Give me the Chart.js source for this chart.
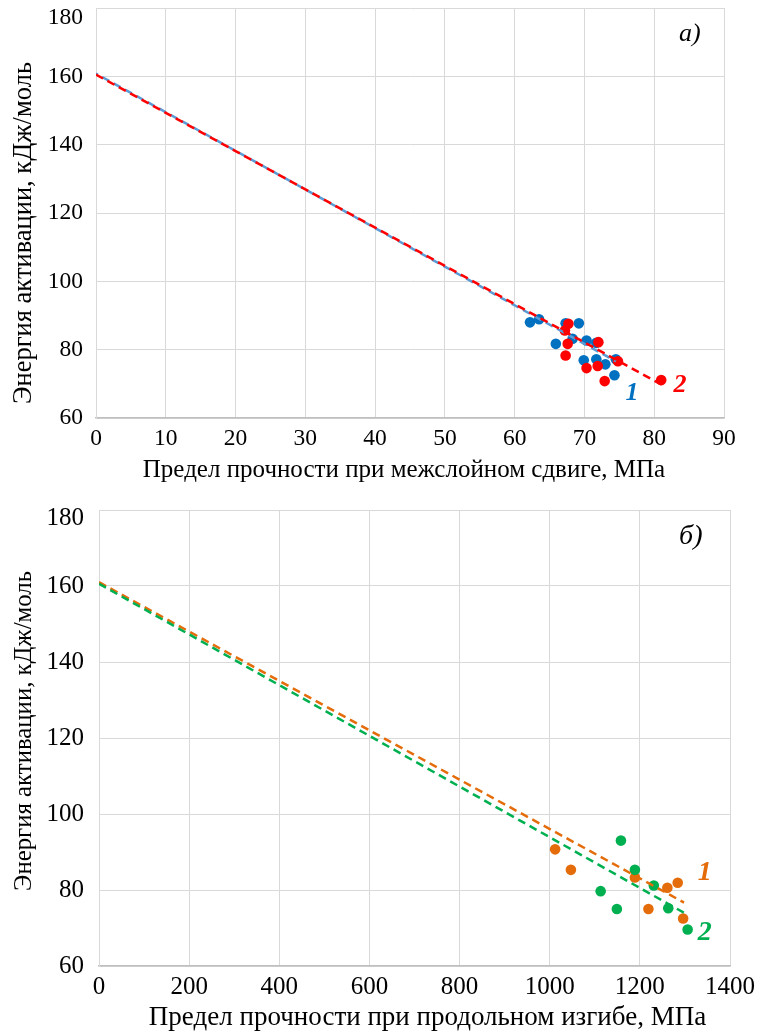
<!DOCTYPE html>
<html><head><meta charset="utf-8">
<script src="https://cdn.jsdelivr.net/npm/chart.js@4.4.1/dist/chart.umd.min.js"></script>
<style>
html,body{margin:0;padding:0;background:#fff;}
#wrap{position:relative;width:764px;height:1032px;}
#c1{position:absolute;left:0;top:0;}
#c2{position:absolute;left:0;top:495px;}
</style></head>
<body><div id="wrap"><canvas id="c1" width="764" height="495"></canvas><canvas id="c2" width="764" height="537"></canvas></div>
<script>
// ---- Chart a) data ----
const a_x1 = [62.2,63.5,67.3,69.2,65.9,68.3,70.3,71.7,69.9,71.7,73.0,74.5,74.3];
const a_y1 = [88.0,88.9,87.7,87.7,81.7,83.2,82.7,82.0,76.9,77.2,75.7,77.2,72.5];
const a_x2 = [67.7,67.2,67.6,72.0,67.3,70.3,71.9,74.8,72.9,81.0];
const a_y2 = [87.6,85.6,81.7,82.2,78.3,74.6,75.2,76.6,70.8,71.1];
const a_trend1_x = [0,74.5];
const a_trend1_y = [160.8,76.6];
const a_trend2_x = [0,81.0];
const a_trend2_y = [160.5,69.8];
const a_xTicks = [0,10,20,30,40,50,60,70,80,90];
const yTicks = [60,80,100,120,140,160,180];
// ---- Chart б) data ----
const b_x1 = [1012,1047,1189,1261,1284,1219,1296];
const b_y1 = [90.7,85.3,83.3,80.6,81.9,75.0,72.5];
const b_x2 = [1158,1189,1231,1113,1149,1263,1306];
const b_y2 = [93.0,85.3,81.2,79.7,75.0,75.2,69.6];
const b_trend1_x = [0,1298];
const b_trend1_y = [161.0,76.7];
const b_trend2_x = [0,1307];
const b_trend2_y = [160.6,73.4];
const b_xTicks = [0,200,400,600,800,1000,1200,1400];

const Y_TITLE = 'Энергия активации, кДж/моль';

const pts = (xs, ys) => xs.map((x,i)=>({x:x,y:ys[i]}));

const BLUE='#0070C0', RED='#FF0000', LBLUE='#5B9BD5', ORANGE='#E46C0A', GREEN='#00B050';
const SERIF='"Liberation Serif","DejaVu Serif",serif';

function labelsPlugin(items){
  return {id:'lbl', afterDatasetsDraw(chart){
    const ctx=chart.ctx, xs=chart.scales.x, ys=chart.scales.y;
    items.forEach(it=>{
      ctx.save();
      ctx.font=it.font; ctx.textAlign='center'; ctx.textBaseline='middle';
      const px=xs.getPixelForValue(it.x), py=ys.getPixelForValue(it.y);
      if(it.bg){const w=ctx.measureText(it.text).width+18; ctx.fillStyle='#fff'; ctx.fillRect(px-w/2,py-14,w,28);}
      ctx.fillStyle=it.color; ctx.fillText(it.text,px,py);
      ctx.restore();
    });
  }};
}

function titlesPlugin(t){
  return {id:'ttl', afterDraw(chart){
    const ctx=chart.ctx, a=chart.chartArea;
    ctx.save();
    ctx.fillStyle='#000'; ctx.textAlign='center'; ctx.textBaseline='middle';
    ctx.font=t.xSize+'px '+SERIF;
    ctx.fillText(t.xText,(a.left+a.right)/2+t.xdx,chart.height-t.xFromBottom);
    ctx.translate(t.yx,(a.top+a.bottom)/2+t.ydy);
    ctx.rotate(-Math.PI/2);
    ctx.font=t.ySize+'px '+SERIF;
    ctx.fillText(Y_TITLE,0,0);
    ctx.restore();
  }};
}

function makeChart(id, cfg){
  const datasets = [
    {type:'line',data:pts(cfg.t2x,cfg.t2y),borderColor:cfg.c2,borderWidth:2.5,borderDash:[8,5],pointRadius:0,fill:false},
    {type:'line',data:pts(cfg.t1x,cfg.t1y),borderColor:cfg.lc1,borderWidth:2.5,borderDash:[8,5],borderDashOffset:cfg.dashOff,pointRadius:0,fill:false},
    {type:'scatter',data:pts(cfg.x2,cfg.y2),backgroundColor:cfg.c2,borderColor:cfg.c2,pointRadius:5.3,borderWidth:0},
    {type:'scatter',data:pts(cfg.x1,cfg.y1),backgroundColor:cfg.c1,borderColor:cfg.c1,pointRadius:5.3,borderWidth:0}
  ];
  return new Chart(document.getElementById(id),{
    type:'scatter',
    data:{datasets},
    options:{
      responsive:false,animation:false,
      layout:{padding:cfg.pad},
      plugins:{legend:{display:false},tooltip:{enabled:false}},
      scales:{
        x:{type:'linear',min:cfg.xTicks[0],max:cfg.xTicks[cfg.xTicks.length-1],
           afterBuildTicks:s=>{s.ticks=cfg.xTicks.map(v=>({value:v}));},
           afterFit:s=>{s.height=cfg.xh;},
           grid:{color:'#d9d9d9',lineWidth:1,drawTicks:false},
           border:{color:'#bfbfbf',width:1.5},
           ticks:{color:'#000',font:{family:SERIF,size:cfg.tf},padding:cfg.xtp,maxRotation:0,autoSkip:false,
                  callback:v=>String(v)},
           title:{display:false}},
        y:{type:'linear',min:60,max:180,
           afterBuildTicks:s=>{s.ticks=yTicks.map(v=>({value:v}));},
           afterFit:s=>{s.width=cfg.yw; s.paddingTop=0; s.paddingBottom=0;},
           grid:{color:'#d9d9d9',lineWidth:1,drawTicks:false},
           border:{color:'#d9d9d9',width:1},
           ticks:{color:'#000',padding:cfg.ytp,
                  font:c=>({family:SERIF,size:cfg.tf,lineHeight:(c.tick&&c.tick.value===180)?cfg.topShift:1.2}),
                  callback:v=>v===180?['',String(v)]:String(v)},
           title:{display:false}}
      }
    },
    plugins:[labelsPlugin(cfg.labels),titlesPlugin(cfg.titles)]
  });
}

makeChart('c1',{
  x1:a_x1,y1:a_y1,x2:a_x2,y2:a_y2,t1x:a_trend1_x,t1y:a_trend1_y,t2x:a_trend2_x,t2y:a_trend2_y,
  c1:BLUE,lc1:LBLUE,c2:RED,xTicks:a_xTicks,dashOff:6,
  pad:{top:8,right:40,left:0,bottom:0},xh:77,yw:96,tf:23.5,xtp:7,ytp:13,topShift:'20px',
  titles:{xText:'Предел прочности при межслойном сдвиге, МПа',xSize:25,xdx:-6,xFromBottom:25,yx:24,ydy:20,ySize:26.5},
  labels:[
    {text:'1',x:76.8,y:67.3,color:BLUE,font:'italic bold 26px '+SERIF},
    {text:'2',x:83.7,y:69.6,color:RED,font:'italic bold 26px '+SERIF},
    {text:'а)',x:85.1,y:172.3,color:'#000',font:'italic 26px '+SERIF}
  ]
});
makeChart('c2',{
  x1:b_x1,y1:b_y1,x2:b_x2,y2:b_y2,t1x:b_trend1_x,t1y:b_trend1_y,t2x:b_trend2_x,t2y:b_trend2_y,
  c1:ORANGE,lc1:ORANGE,c2:GREEN,xTicks:b_xTicks,dashOff:0,
  pad:{top:15,right:34,left:0,bottom:0},xh:66,yw:99,tf:25,xtp:6,ytp:15,topShift:'16px',
  titles:{xText:'Предел прочности при продольном изгибе, МПа',xSize:27,xdx:13,xFromBottom:14,yx:24,ydy:-7,ySize:24.8},
  labels:[
    {text:'1',x:1344,y:84.5,color:ORANGE,font:'italic bold 28px '+SERIF,bg:true},
    {text:'2',x:1344,y:68.7,color:GREEN,font:'italic bold 28px '+SERIF},
    {text:'б)',x:1313,y:172.9,color:'#000',font:'italic 28px '+SERIF}
  ]
});
</script></body></html>
